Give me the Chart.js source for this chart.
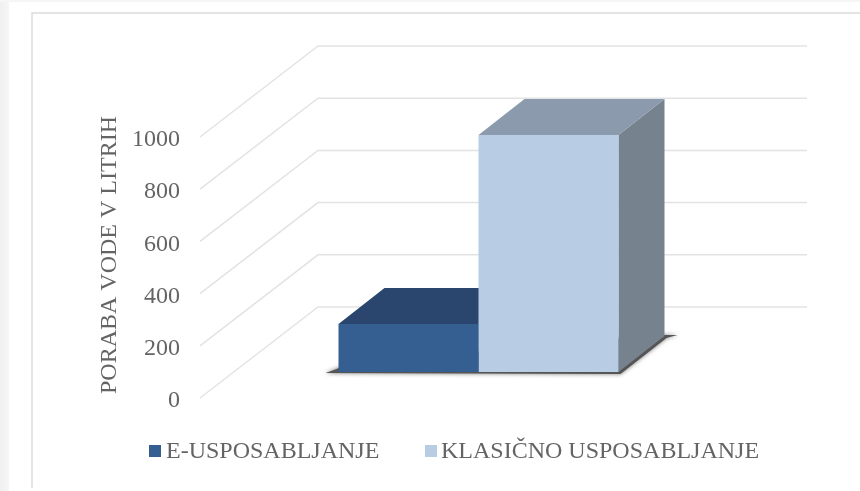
<!DOCTYPE html>
<html>
<head>
<meta charset="utf-8">
<title>Poraba vode</title>
<script src="https://cdn.jsdelivr.net/npm/chart.js@4/dist/chart.umd.min.js"></script>
<style>
html, body { margin: 0; padding: 0; background: #fff; overflow: hidden; }
#wrap { width: 860px; height: 491px; position: relative; }
canvas { display: block; filter: blur(0.6px); }
</style>
</head>
<body>
<div id="wrap"><canvas id="graf" width="860" height="491"></canvas></div>
<script>
const categories = ["Poraba"];
const seriesNames = ["E-USPOSABLJANJE", "KLASIČNO USPOSABLJANJE"];
const eValues = [184];
const klasicnoValues = [908];
const yTicks = [0, 200, 400, 600, 800, 1000];
const yTitle = "PORABA VODE V LITRIH";

const FONT = "'Liberation Serif', serif";
const TEXT = "#646464";

// 3D offsets (front of plot -> back wall, floor -> bar front, bar depth)
const WALL = { dx: 118, dy: 91, right: 807 };
const FLOOR = { dx: 34, dy: 26 };
const DEPTH = { dx: 46, dy: 36 };

const colors = [
    { front: "#355f91", top: "#2a466e", side: "#2a466e" },
    { front: "#b8cce4", top: "#8b9aac", side: "#76828e" }
];

function poly(ctx, pts, fill) {
    ctx.beginPath();
    pts.forEach((p, i) => i ? ctx.lineTo(p[0], p[1]) : ctx.moveTo(p[0], p[1]));
    ctx.closePath();
    ctx.fillStyle = fill;
    ctx.fill();
}

const okvir = {
    id: "okvir",
    beforeDraw(chart) {
        const ctx = chart.ctx;
        ctx.save();
        // page strip on the left and at the top
        const g = ctx.createLinearGradient(0, 0, 9, 0);
        g.addColorStop(0, "#f0f0f0");
        g.addColorStop(1, "#f6f6f6");
        ctx.fillStyle = g;
        ctx.fillRect(0, 0, 9, 491);
        ctx.fillStyle = "#f6f6f6";
        ctx.fillRect(0, 0, 860, 2);
        // chart frame
        ctx.strokeStyle = "#dcdcdc";
        ctx.lineWidth = 1.5;
        ctx.beginPath();
        ctx.moveTo(32, 488);
        ctx.lineTo(32, 13);
        ctx.lineTo(860, 13);
        ctx.stroke();
        ctx.restore();
    }
};

const kvader = {
    id: "kvader",
    beforeDatasetsDraw(chart) {
        const ctx = chart.ctx;
        const y = chart.scales.y;
        const left = chart.chartArea.left;
        ctx.save();

        // gridlines: side wall + back wall
        ctx.strokeStyle = "#e3e3e3";
        ctx.lineWidth = 1.5;
        y.ticks.forEach(t => {
            const py = y.getPixelForValue(t.value);
            ctx.beginPath();
            ctx.moveTo(left, py);
            ctx.lineTo(left + WALL.dx, py - WALL.dy);
            ctx.lineTo(WALL.right, py - WALL.dy);
            ctx.stroke();
        });

        const first = chart.getDatasetMeta(0).data[0];
        const last = chart.getDatasetMeta(1).data[0];
        const x0 = first.x - first.width / 2 + FLOOR.dx;
        const x1 = last.x + last.width / 2 + FLOOR.dx;
        const base = y.getPixelForValue(0) - FLOOR.dy;

        // shadow on the floor
        ctx.save();
        ctx.shadowColor = "rgba(60,60,60,0.7)";
        ctx.shadowBlur = 4;
        poly(ctx, [
            [x0 - 13, base + 1], [x1 + 2, base + 2],
            [x1 + DEPTH.dx + 2, base - DEPTH.dy + 2],
            [x1 + DEPTH.dx + 13, base - DEPTH.dy - 1],
            [x1 + DEPTH.dx - 10, base - DEPTH.dy - 1],
            [x0 + 10, base - 8], [x0 - 2, base - 3]
        ], "#555555");
        ctx.restore();

        // top and side faces, first bar first
        [0, 1].forEach(i => {
            const bar = chart.getDatasetMeta(i).data[0];
            const l = bar.x - bar.width / 2 + FLOOR.dx;
            const r = bar.x + bar.width / 2 + FLOOR.dx;
            const t = bar.y - FLOOR.dy;
            poly(ctx, [[r, t], [r + DEPTH.dx, t - DEPTH.dy], [r + DEPTH.dx, base - DEPTH.dy], [r, base]], colors[i].side);
            poly(ctx, [[l, t], [l + DEPTH.dx, t - DEPTH.dy], [r + DEPTH.dx, t - DEPTH.dy], [r, t]], colors[i].top);
        });
        ctx.restore();
    },
    beforeDatasetDraw(chart) {
        chart.ctx.save();
        chart.ctx.translate(FLOOR.dx, -FLOOR.dy);
    },
    afterDatasetDraw(chart) {
        chart.ctx.restore();
    },
    afterDraw(chart) {
        const ctx = chart.ctx;
        ctx.save();
        ctx.font = "24px " + FONT;
        ctx.fillStyle = TEXT;

        // axis title, it is not centred on the scale in the original
        ctx.save();
        ctx.translate(116, 255);
        ctx.rotate(-Math.PI / 2);
        ctx.textAlign = "center";
        ctx.textBaseline = "alphabetic";
        ctx.fillText(yTitle, 0, 0);
        ctx.restore();

        // legend, Chart.js keeps a gap of half the font size which is too wide here
        const pos = [{ box: 149, text: 166 }, { box: 425, text: 441 }];
        ctx.textBaseline = "middle";
        seriesNames.forEach((s, i) => {
            ctx.fillStyle = colors[i].front;
            ctx.fillRect(pos[i].box, 445, 12, 12);
            ctx.fillStyle = TEXT;
            ctx.fillText(s, pos[i].text, 452);
        });
        ctx.restore();
    }
};

new Chart(document.getElementById("graf"), {
    type: "bar",
    data: {
        labels: categories,
        datasets: [
            { label: seriesNames[0], data: eValues, backgroundColor: colors[0].front },
            { label: seriesNames[1], data: klasicnoValues, backgroundColor: colors[1].front }
        ]
    },
    options: {
        responsive: false,
        animation: false,
        devicePixelRatio: 1,
        categoryPercentage: 0.5726,
        barPercentage: 1,
        layout: { padding: { left: 92, top: 137, right: 171, bottom: 93 } },
        plugins: { legend: { display: false }, tooltip: { enabled: false } },
        scales: {
            x: { display: false },
            y: {
                min: 0,
                max: 1000,
                afterBuildTicks(scale) { scale.ticks = yTicks.map(v => ({ value: v })); },
                afterFit(scale) { scale.width = 108; },
                grid: { display: false },
                border: { display: false },
                ticks: {
                    color: TEXT,
                    padding: 12,
                    labelOffset: 3,
                    font: { family: FONT, size: 24 },
                    callback: v => String(v)
                }
            }
        }
    },
    plugins: [okvir, kvader]
});
</script>
</body>
</html>
